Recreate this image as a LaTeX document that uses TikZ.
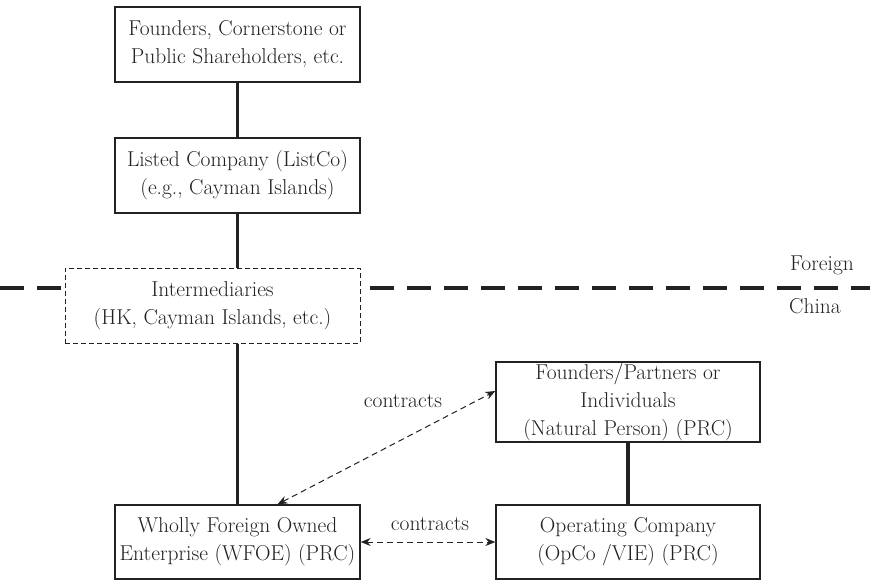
\documentclass[tikz,border=0pt]{standalone}
\usetikzlibrary{arrows.meta,calc}
\definecolor{ink}{HTML}{222222}
\begin{document}
\begin{tikzpicture}[x=1pt,y=-1pt,
  box/.style={draw=ink,line width=1.3pt,fill=white,align=center,text=ink,
    font=\fontsize{21.5}{28}\selectfont,inner sep=0pt},
  thick link/.style={draw=ink,line width=3.8pt},
  ctr/.style={draw=ink,line width=1pt,dash pattern=on 6pt off 4pt,{Stealth[length=10pt,width=8pt]}-{Stealth[length=10pt,width=8pt]}},
  lbl/.style={text=ink,font=\fontsize{21.5}{28}\selectfont,inner sep=0pt}]
\useasboundingbox (0,0) rectangle (870,580);
\draw[ink,line width=4pt,dash pattern=on 24pt off 13pt] (0,288) -- (870,288);
\node[box,minimum width=245pt,minimum height=75pt] (top) at (237.5,44.5) {Founders, Cornerstone or\\Public Shareholders, etc.};
\node[box,minimum width=245pt,minimum height=75pt] (list) at (237.5,175.5) {Listed Company (ListCo)\\(e.g., Cayman Islands)};
\node[box,draw=ink,line width=1pt,dash pattern=on 5pt off 3pt,minimum width=295pt,minimum height=75pt] (inter) at (212.5,305.5) {Intermediaries\\(HK, Cayman Islands, etc.)};
\node[box,minimum width=245pt,minimum height=74pt] (wfoe) at (237.5,542) {Wholly Foreign Owned\\Enterprise (WFOE) (PRC)};
\node[box,minimum width=264pt,minimum height=74pt] (opco) at (628,542) {Operating Company\\(OpCo /VIE) (PRC)};
\node[box,minimum width=264pt,minimum height=80pt] (fp) at (628,402) {Founders/Partners or\\Individuals\\(Natural Person) (PRC)};
\draw[thick link] (top.south) -- (list.north);
\draw[thick link] (list.south) -- (inter.north -| list.south);
\draw[thick link] (inter.south -| wfoe.north) -- (wfoe.north);
\draw[thick link] (fp.south) -- (opco.north);
\coordinate (wa) at ($(wfoe.north)+(40,0)$);
\coordinate (fa) at ($(fp.west)+(0,-11)$);
\draw[ctr] (wa) -- (fa);
\draw[ctr] (wfoe.east) -- (opco.west);
\node[lbl] (c1) at (403,401) {contracts};
\node[lbl] (c2) at (430,524) {contracts};
\node[lbl] (fo) at (822,265) {Foreign};
\node[lbl] (ch) at (815,306) {China};
\end{tikzpicture}
\end{document}
